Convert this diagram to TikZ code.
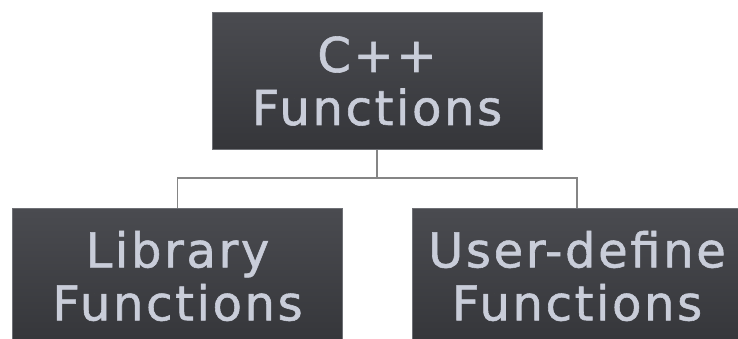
\documentclass[tikz,border=0pt]{standalone}
\usepackage{fontspec}
\newfontfamily\boxfont[LetterSpace=5.5,FakeBold=1.2]{DejaVu Sans}
\definecolor{boxtop}{HTML}{4A4B50}
\definecolor{boxbot}{HTML}{35363A}
\definecolor{boxedge}{HTML}{6E7075}
\definecolor{txt}{HTML}{C9CDD9}
\definecolor{connc}{HTML}{858585}
\begin{document}
\begin{tikzpicture}[x=1pt,y=1pt,
  fbox/.style={rectangle, minimum width=330pt, minimum height=136pt, inner sep=0pt,
    top color=boxtop, bottom color=boxbot, draw=boxedge, line width=1pt,
    text=txt, align=center, font=\boxfont\fontsize{48}{53}\selectfont},
  conn/.style={draw=connc, line width=1.2pt}]
\useasboundingbox (0,0) rectangle (738,338);
\clip (0,0) rectangle (738,338);
\fill[white] (0,0) rectangle (738,338);
\node[fbox] (top) at (377,257) {C++\\Functions};
\node[fbox] (lib) at (177.5,62) {Library\\Functions};
\node[fbox] (user) at (577,62) {User-define\\Functions};
\coordinate (mid) at (377,160);
\draw[conn] (top.south) -- (mid);
\draw[conn] (lib.north) |- (mid) -| (user.north);
\end{tikzpicture}
\end{document}
